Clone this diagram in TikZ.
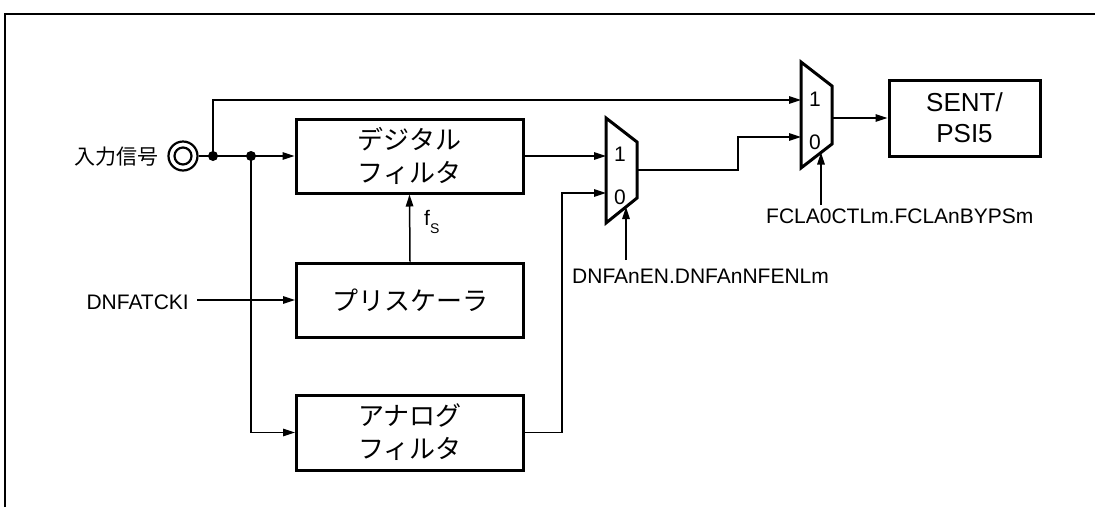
\documentclass[tikz,border=0pt]{standalone}
\usepackage{fontspec}
\setmainfont{Liberation Sans}
\newfontfamily\jpfont{Noto Sans CJK JP}
\usetikzlibrary{arrows.meta}
\begin{document}
\begin{tikzpicture}[x=1pt,y=-1pt,
  box/.style={draw, line width=3pt, minimum width=227pt, minimum height=74pt, inner sep=0pt, align=center, font=\jpfont\fontsize{26}{33}\selectfont},
  wire/.style={line width=1.5pt},
  arr/.style={wire, -{Triangle[length=12pt,width=7.5pt]}},
  muxs/.style={draw, line width=3pt, line join=miter},
  lbl/.style={inner sep=0pt, font=\fontsize{21}{21}\selectfont},
  jlbl/.style={inner sep=0pt, font=\jpfont\fontsize{21}{21}\selectfont},
  dot/.style={circle, fill, inner sep=0pt, minimum size=10pt}]
\useasboundingbox (0,0) rectangle (1095,507);
\draw[line width=2.8pt] (5,507) -- (5,14) -- (1095,14);

% boxes
\node[box] (dig) at (409.5,156) {デジタル\\フィルタ};
\node[box] (pre) at (410,300) {プリスケーラ};
\node[box, minimum height=75pt] (ana) at (410,432.5) {アナログ\\フィルタ};
\node[box, minimum width=151pt, minimum height=76pt, font=\fontsize{26}{31}\selectfont] (sent) at (964.5,118) {SENT/\\PSI5};

% input terminal
\node[circle, draw, line width=2.2pt, minimum size=29pt, inner sep=0pt] (in) at (183,156) {};
\node[circle, draw, line width=2.2pt, minimum size=17pt, inner sep=0pt] (inin) at (183,156) {};
\node[jlbl, anchor=base east] (inlbl) at (159,164) {入力信号};
\node[dot] (d1) at (213,156) {};
\node[dot] (d2) at (251,156) {};

% multiplexers
\draw[muxs] (606,118) -- (637,142) -- (637,198) -- (606,223) -- cycle;
\coordinate (m1a) at (606,156);
\coordinate (m1b) at (606,193);
\coordinate (m1o) at (637,170);
\coordinate (m1s) at (626,207);
\node[lbl, anchor=base] (m1l1) at (620,161) {1};
\node[lbl, anchor=base] (m1l0) at (620,204) {0};

\draw[muxs] (801,62) -- (832,86) -- (832,144) -- (801,168) -- cycle;
\coordinate (m2a) at (801,100);
\coordinate (m2b) at (801,137);
\coordinate (m2o) at (832,118);
\coordinate (m2s) at (821,152.5);
\node[lbl, anchor=base] (m2l1) at (815,106) {1};
\node[lbl, anchor=base] (m2l0) at (815,149) {0};

% labels
\node[lbl, anchor=base east] (ck) at (189,309.5) {DNFATCKI};
\coordinate (ckend) at (197,300);
\node[lbl, anchor=base west] (sel1) at (572,283.5) {DNFAnEN.DNFAnNFENLm};
\coordinate (s1) at (626,260);
\node[lbl, anchor=base west] (sel2) at (766,223) {FCLA0CTLm.FCLAnBYPSm};
\coordinate (s2) at (821,205);
\node[anchor=base west, inner sep=0pt] (fs) at (424,225) {\fontsize{21}{21}\selectfont f\raisebox{-8pt}{\fontsize{14}{14}\selectfont S}};

% waypoints
\coordinate (k1) at (562,193);
\coordinate (k2) at (738,137);

% connectors
\draw[wire] (in.east) -- (d1.center);
\draw[arr] (d1.center) -- (dig.west);
\draw[arr] (d1.center) |- (m2a);
\draw[arr] (d2.center) |- (ana.west);
\draw[arr] (dig.east) -- (m1a);
\draw[arr] (ana.east) -| (k1) -- (m1b);
\draw[arr] (m1o) -| (k2) -- (m2b);
\draw[arr] (m2o) -- (sent.west);
\draw[arr] (pre.north) -- (dig.south);
\draw[arr] (ckend) -- (pre.west);
\draw[arr] (s1) -- (m1s);
\draw[arr] (s2) -- (m2s);
\end{tikzpicture}
\end{document}
